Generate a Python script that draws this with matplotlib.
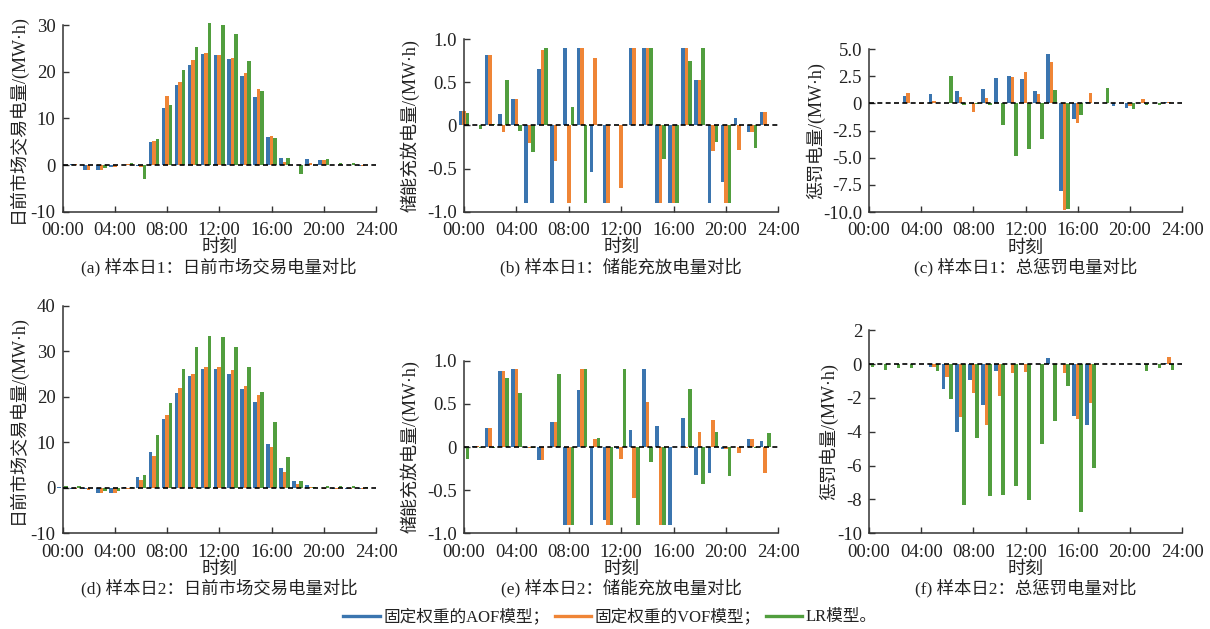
import numpy as np
import matplotlib
matplotlib.use('Agg')
import matplotlib.pyplot as plt
from matplotlib.lines import Line2D

plt.rcParams['font.family'] = ['Liberation Serif', 'Noto Sans CJK SC']
plt.rcParams['axes.unicode_minus'] = False

W, H = 1210, 629

hours = np.arange(24)
tick_hours = [0, 4, 8, 12, 16, 20, 24]
tick_labels = ['00:00', '04:00', '08:00', '12:00', '16:00', '20:00', '24:00']
series_names = ['固定权重的AOF模型；', '固定权重的VOF模型；', 'LR模型。']
colors = ['#3b75af', '#ef8536', '#519e3e']

# day 1: day-ahead market energy (MW·h)
aof_a = [0.1, 0.2, -1.1, -1.1, -0.5, 0.0, -0.2, 5.0, 12.3, 17.2, 21.4, 23.8,
         23.5, 22.7, 19.1, 14.6, 6.1, 1.4, 0.0, 1.2, 1.0, 0.1, 0.1, -0.2]
vof_a = [0.1, 0.2, -1.1, -1.1, -0.5, 0.15, -0.4, 5.2, 14.8, 17.8, 22.5, 24.0,
         23.5, 22.9, 19.7, 16.3, 6.3, 0.6, 0.1, 0.35, 1.0, -0.1, 0.0, -0.2]
lr_a = [0.1, 0.1, 0.0, -0.7, 0.0, 0.35, -3.0, 5.5, 12.9, 20.4, 25.2, 30.4,
        29.9, 28.0, 22.3, 15.9, 5.7, 1.6, -2.0, 0.1, 1.2, 0.35, 0.35, 0.1]

# day 1: storage charge / discharge
aof_b = [0.17, 0.0, 0.82, 0.13, 0.31, -0.9, 0.65, -0.9, 0.89, 0.89, -0.54, -0.9,
         0.0, 0.89, 0.89, -0.9, -0.9, 0.89, 0.53, -0.9, -0.66, 0.08, -0.08, 0.15]
vof_b = [0.17, 0.0, 0.82, -0.08, 0.31, -0.2, 0.87, -0.41, -0.9, 0.89, 0.78, -0.9,
         -0.73, 0.89, 0.89, -0.9, -0.9, 0.89, 0.53, -0.3, -0.9, -0.29, -0.08, 0.15]
lr_b = [0.14, -0.04, 0.01, 0.53, -0.06, -0.31, 0.89, 0.0, 0.21, -0.9, 0.0, 0.0,
        0.0, 0.0, 0.89, -0.39, -0.9, 0.74, 0.89, -0.19, -0.9, 0.0, -0.26, 0.0]

# day 1: total penalty energy
aof_c = [0, 0, 0, 0.67, 0, 0.86, 0, 1.13, 0, 1.32, 2.33, 2.5,
         2.24, 1.13, 4.54, -8.07, -1.44, 0.12, 0, -0.25, -0.43, 0, 0, 0.15]
vof_c = [0, 0, 0, 0.95, -0.05, 0.21, 0, 0.58, -0.8, 0.49, 0, 2.42,
         2.88, 0.86, 3.8, -9.82, -1.81, 0.95, 0, 0, -0.25, 0.4, 0, 0.1]
lr_c = [0, 0, 0, 0, 0, 0, 2.5, -0.12, -0.05, -0.12, -2.0, -4.85,
        -4.2, -3.28, 1.23, -9.72, -1.07, 0, 1.41, 0, -0.52, -0.12, -0.12, 0]

# day 2: day-ahead market energy
aof_d = [0.1, -0.2, -0.3, -1.1, -1.1, 0.2, 2.4, 7.9, 15.2, 20.9, 24.6, 26.2,
         26.2, 25.1, 21.8, 18.9, 9.7, 4.4, 1.5, 0.66, -0.1, -0.2, -0.2, -0.2]
vof_d = [0.0, -0.2, -0.4, -1.1, -1.1, -0.2, 1.8, 7.0, 16.0, 22.0, 25.1, 26.6,
         26.6, 25.9, 22.4, 20.4, 9.0, 3.5, 0.9, 0.1, -0.2, -0.2, -0.2, -0.2]
lr_d = [0.4, 0.4, -0.1, -0.66, -0.66, 0.2, 2.9, 11.6, 18.7, 26.2, 31.0, 33.4,
        33.2, 30.9, 26.6, 21.1, 14.5, 6.8, 1.5, 0.1, 0.44, 0.44, 0.44, 0.1]

# day 2: storage charge / discharge
aof_e = [0, 0.01, 0.22, 0.88, 0.9, -0.01, -0.15, 0.29, -0.9, 0.66, -0.9, -0.85,
         -0.02, 0.2, 0.9, 0.24, -0.9, 0.34, -0.33, -0.3, -0.02, 0, 0.09, 0.07]
vof_e = [0, 0.01, 0.22, 0.88, 0.9, -0.01, -0.15, 0.29, -0.9, 0.9, 0.09, -0.9,
         -0.14, -0.59, 0.52, -0.9, 0, -0.01, 0.17, 0.31, -0.02, -0.07, 0.09, -0.3]
lr_e = [-0.14, -0.01, -0.01, 0.8, 0.63, -0.01, 0, 0.85, -0.9, 0.9, 0.1, -0.9,
        0.9, -0.9, -0.17, -0.9, 0, 0.67, -0.43, 0.17, -0.34, 0, -0.01, 0.16]

# day 2: total penalty energy
aof_f = [0, 0, 0, 0, 0, -0.14, -1.45, -4.04, -0.92, -2.39, -0.39, 0,
         0, 0, 0.37, 0, -3.04, -3.57, 0, 0, 0, -0.08, 0, 0.08]
vof_f = [0, 0, 0, 0, -0.02, -0.14, -0.75, -3.1, -1.69, -3.57, -1.86, -0.51,
         -0.45, 0, 0, -0.51, -3.22, -2.27, 0, 0, 0, 0, -0.02, 0.43]
lr_f = [-0.14, -0.33, -0.2, -0.25, 0, -0.39, -2.04, -8.31, -4.39, -7.78, -7.73, -7.2,
        -8.04, -4.75, -3.39, -1.27, -8.75, -6.16, 0, 0, 0, -0.39, -0.25, -0.33]

yticks_market1 = [-10, 0, 10, 20, 30]
yticks_market2 = [-10, 0, 10, 20, 30, 40]
yticks_storage = [-1.0, -0.5, 0, 0.5, 1.0]
ylabels_storage = ['-1.0', '-0.5', '0', '0.5', '1.0']
yticks_penalty1 = [-10, -7.5, -5, -2.5, 0, 2.5, 5]
ylabels_penalty1 = ['-10.0', '-7.5', '-5.0', '-2.5', '0', '2.5', '5.0']
yticks_penalty2 = [-10, -8, -6, -4, -2, 0, 2]

label_market = '日前市场交易电量/(MW·h)'
label_storage = '储能充放电量/(MW·h)'
label_penalty = '惩罚电量/(MW·h)'

TEXT = '#222222'


def px_axes(fig, left, top, right, bottom):
    return fig.add_axes([left / W, 1 - bottom / H, (right - left) / W, (bottom - top) / H])


def draw_panel(ax, aof, vof, lr, yticks, ylabels=None):
    width = 0.27
    for k, (vals, c) in enumerate(zip((aof, vof, lr), colors)):
        ax.bar(hours + (k - 1) * width, vals, width, color=c, clip_on=False, zorder=2)
    # zero reference line over the bars
    ax.plot([0, 24], [0, 0], ls=(0, (3, 2)), color='k', lw=1.2, zorder=3)
    ax.set_xlim(0, 24)
    ax.set_ylim(yticks[0], yticks[-1])
    ax.set_xticks(tick_hours)
    ax.set_xticklabels(tick_labels)
    ax.set_yticks(yticks)
    if ylabels is not None:
        ax.set_yticklabels(ylabels)
    ax.tick_params(direction='in', length=4, width=1, labelsize=13.5,
                   colors='#333333', labelcolor=TEXT)
    ax.tick_params(axis='x', pad=7.5)
    ax.tick_params(axis='y', pad=5)
    for side in ('top', 'right'):
        ax.spines[side].set_visible(False)
    for side in ('left', 'bottom'):
        ax.spines[side].set_color('#333333')
        ax.spines[side].set_linewidth(1.1)


fig = plt.figure(figsize=(W / 100, H / 100), dpi=100)

panels = [
    # data, yticks, yticklabels, ylabel, caption, (l, t, r, b), ylabel x
    ((aof_a, vof_a, lr_a), yticks_market1, None, label_market,
     '(a) 样本日1：日前市场交易电量对比', (62.5, 25, 376, 211.7), 17),
    ((aof_b, vof_b, lr_b), yticks_storage, ylabels_storage, label_storage,
     '(b) 样本日1：储能充放电量对比', (464, 39, 778.3, 211.7), 410),
    ((aof_c, vof_c, lr_c), yticks_penalty1, ylabels_penalty1, label_penalty,
     '(c) 样本日1：总惩罚电量对比', (869, 49, 1182, 212), 815),
    ((aof_d, vof_d, lr_d), yticks_market2, None, label_market,
     '(d) 样本日2：日前市场交易电量对比', (62.5, 306, 376, 533.3), 17),
    ((aof_e, vof_e, lr_e), yticks_storage, ylabels_storage, label_storage,
     '(e) 样本日2：储能充放电量对比', (464, 360.7, 778.3, 533.3), 410),
    ((aof_f, vof_f, lr_f), yticks_penalty2, None, label_penalty,
     '(f) 样本日2：总惩罚电量对比', (869, 330.3, 1182, 533.3), 828),
]

for data, yt, ylab, ytitle, caption, rect, ylx in panels:
    l, t, r, b = rect
    ax = px_axes(fig, l, t, r, b)
    draw_panel(ax, *data, yt, ylab)
    cx = (l + r) / 2
    fig.text(ylx / W, 1 - ((t + b) / 2) / H, ytitle, rotation=90,
             ha='center', va='center', fontsize=13, color=TEXT)
    fig.text(cx / W, 1 - (b + 36) / H, '时刻', ha='center', va='center',
             fontsize=13, color=TEXT)
    fig.text(cx / W, 1 - (b + 55) / H, caption, ha='center', va='center',
             fontsize=12.5, color=TEXT)

handles = [Line2D([], [], color=c, lw=2.4) for c in colors]
fig.legend(handles, series_names, loc='center', bbox_to_anchor=(610 / W, 1 - 617 / H),
           ncol=3, frameon=False, handlelength=2.2, handletextpad=0.2,
           columnspacing=0.3, fontsize=12, labelcolor=TEXT)

fig.savefig('out.png', dpi=100)
